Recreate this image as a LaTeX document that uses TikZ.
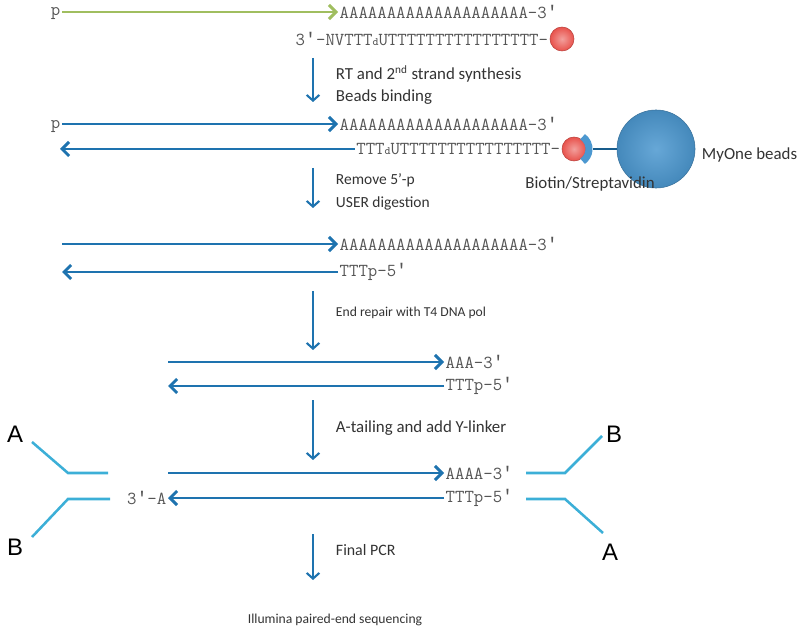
\documentclass[tikz,border=0pt]{standalone}
\usepackage{fontspec}
\setmainfont{Carlito}
\newfontfamily\arialfont{Liberation Sans}
\newfontfamily\primefont{Liberation Mono}
\newcommand{\pr}{{\primefont ′}}
\newcommand{\dsub}{{\fontsize{8}{8}\selectfont d}}
\usetikzlibrary{arrows.meta,positioning,calc}
\definecolor{dnablue}{RGB}{30,115,175}
\definecolor{linkblue}{RGB}{60,175,215}
\definecolor{primergreen}{RGB}{160,190,95}
\definecolor{biored}{RGB}{232,82,76}
\definecolor{beadblue}{RGB}{76,152,208}
\definecolor{seqgray}{RGB}{85,85,85}

\begin{document}
\begin{tikzpicture}[x=0.025cm, y=-0.025cm,
      dna/.style={draw=dnablue, line width=2.1pt,
        -{Straight Barb[length=5pt, width=10pt]}},
      primer/.style={dna, draw=primergreen},
      stage/.style={draw=dnablue, line width=1.5pt,
        -{Straight Barb[length=4pt, width=9pt]}},
      linker/.style={draw=linkblue, line width=1.8pt},
      seq/.style={inner sep=1pt, text=seqgray,
        font=\fontsize{13}{14}\selectfont\ttfamily},
      note/.style={anchor=west, align=left, text=black!80,
        font=\fontsize{10}{14}\selectfont},
      adapter/.style={font=\fontsize{17}{17}\selectfont\arialfont, inner sep=0pt},
      biotin/.style={circle, inner sep=0pt, minimum size=0.6cm,
        draw=biored!80!black, thin,
        inner color=biored!55!white, outer color=biored}]

      \useasboundingbox (0,0) rectangle (800,635);

      % oligo-dT primed RNA
      \node[seq, anchor=east] (p1) at (62,14) {p};
      \node[seq, anchor=west] (a1) at (338,12) {AAAAAAAAAAAAAAAAAAAA-3\pr};
      \node[biotin] (b1) at (562,39) {};
      \node[seq, anchor=east] (t1) at (b1.west) {3\pr-NVTTT\dsub UTTTTTTTTTTTTTTTT-};
      \draw[primer] (p1.east |- a1.west) -- (a1.west);

      % double strand on the beads
      \node[seq, anchor=east] (p2) at (62,127) {p};
      \node[seq, anchor=west] (a2) at (338,124) {AAAAAAAAAAAAAAAAAAAA-3\pr};
      \node[biotin] (b2) at (574,149) {};
      \node[seq, anchor=east] (t2) at (b2.west) {TTT\dsub UTTTTTTTTTTTTTTTT-};
      \coordinate (l2) at (60,149);
      \draw[dna] (p2.east |- a2.west) -- (a2.west);
      \draw[dna] (t2.west) -- (l2);
      \draw[draw=beadblue, line width=5pt] ($(b2)+(-55:15)$) arc (-55:55:15);
      \node[circle, draw=beadblue!75!black, thin, minimum size=1.95cm,
        inner color=beadblue!85!white, outer color=beadblue!90!black] (bead) at (656,149) {};
      \draw[draw=dnablue!80!black, line width=1.2pt] ($(b2)+(19,0)$) -- (bead.west);
      \node[note, font=\fontsize{12}{14}\selectfont] (myone) at (697,155) {MyOne beads};
      \node[note, anchor=center, font=\fontsize{12}{14}\selectfont] (strep) at (590,184) {Biotin/Streptavidin};

      % after USER
      \coordinate (p3) at (62,244);
      \node[seq, anchor=west] (a3) at (338,244) {AAAAAAAAAAAAAAAAAAAA-3\pr};
      \node[seq, anchor=west] (t3) at (338,272) {TTTp-5\pr};
      \coordinate (l3) at (62,272);
      \draw[dna] (p3) -- (a3.west);
      \draw[dna] (t3.west) -- (l3);

      % after end repair
      \coordinate (p4) at (168,362);
      \node[seq, anchor=west] (a4) at (444,362) {AAA-3\pr};
      \node[seq, anchor=west] (t4) at (444,386) {TTTp-5\pr};
      \coordinate (l4) at (168,386);
      \draw[dna] (p4) -- (a4.west);
      \draw[dna] (t4.west) -- (l4);

      % A-tailed fragment with Y-linkers
      \coordinate (p5) at (168,473);
      \node[seq, anchor=west] (a5) at (444,473) {AAAA-3\pr};
      \node[seq, anchor=west] (t5) at (444,498) {TTTp-5\pr};
      \node[seq, anchor=east] (l5) at (168,498) {3\pr-A};
      \draw[dna] (p5) -- (a5.west);
      \draw[dna] (t5.west) -- (l5.east);

      \node[adapter] (ya) at (15,434) {A};
      \node[adapter] (yb) at (15,547) {B};
      \node[adapter] (zb) at (614,434) {B};
      \node[adapter] (za) at (610,552) {A};
      \draw[linker] (108,473) -- (68,473) -- (32,442);
      \draw[linker] (110,499) -- (68,499) -- (32,537);
      \draw[linker] (526,473) -- (565,473) -- (602,436);
      \draw[linker] (526,499) -- (565,499) -- (603,533);

      % steps
      \foreach \i/\ya/\yb in {1/58/102, 2/168/208, 3/291/350, 4/400/460, 5/534/580} {
        \coordinate (s\i) at (313,\ya);
        \coordinate (e\i) at (313,\yb);
        \draw[stage] (s\i) -- (e\i);
      };
      \node[note, font=\fontsize{12}{16}\selectfont] (n1) at (331,85) {RT and 2\textsuperscript{nd} strand synthesis\\Beads binding};
      \node[note, font=\fontsize{11}{16}\selectfont] (n2) at (331,192) {Remove 5’-p\\USER digestion};
      \node[note, font=\fontsize{9.7}{14}\selectfont] (n3) at (331,313) {End repair with T4 DNA pol};
      \node[note, font=\fontsize{12}{14}\selectfont] (n4) at (331,428) {A-tailing and add Y-linker};
      \node[note, font=\fontsize{11.3}{14}\selectfont] (n5) at (331,550) {Final PCR};
      \node[note, anchor=center, font=\fontsize{9.7}{14}\selectfont] (seqn) at (335,620) {Illumina paired-end sequencing};
    \end{tikzpicture}
\end{document}
